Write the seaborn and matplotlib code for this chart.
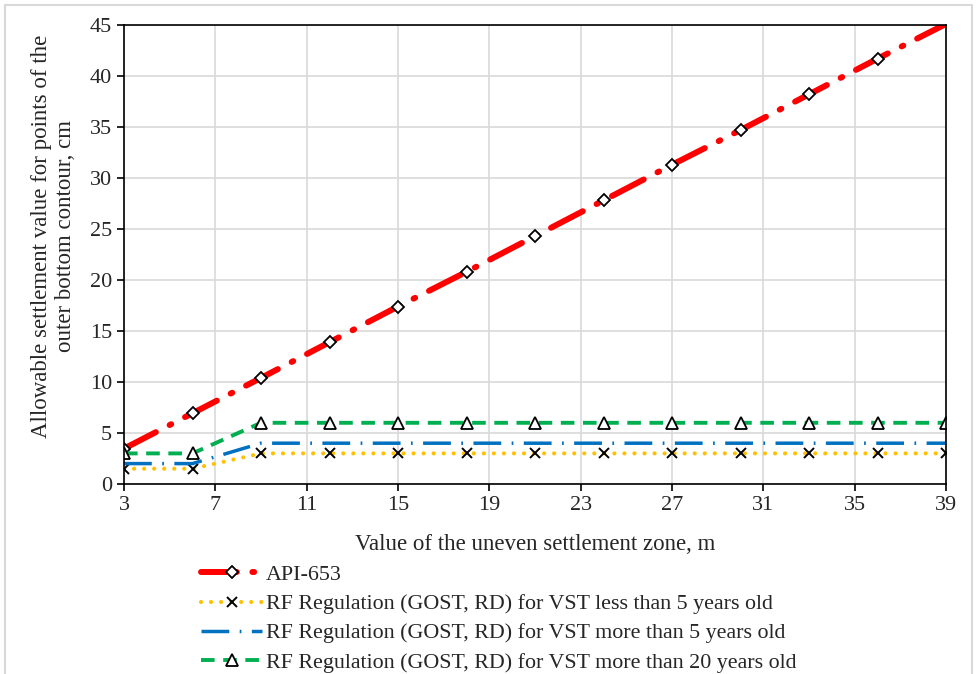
import numpy as np
import pandas as pd
import matplotlib
matplotlib.use('Agg')
import matplotlib.pyplot as plt
import seaborn as sns
from matplotlib.patches import Rectangle

# DATA
zone = [3, 6, 9, 12, 15, 18, 21, 24, 27, 30, 33, 36, 39]
api_653 = [3.47, 6.94, 10.4, 13.9, 17.4, 20.8, 24.3, 27.8, 31.3, 34.7, 38.2, 41.7, 45.1]
rf_less5 = [1.5, 1.5, 3, 3, 3, 3, 3, 3, 3, 3, 3, 3, 3]
rf_more5 = [2, 2, 4, 4, 4, 4, 4, 4, 4, 4, 4, 4, 4]
rf_more20 = [3, 3, 6, 6, 6, 6, 6, 6, 6, 6, 6, 6, 6]

x_ticks = list(range(3, 40, 4))
y_ticks = list(range(0, 46, 5))

labels = ['API-653',
          'RF Regulation (GOST, RD) for VST less than 5 years old',
          'RF Regulation (GOST, RD) for VST more than 5 years old',
          'RF Regulation (GOST, RD) for VST more than 20 years old']

sns.set_style('white')
plt.rcParams['font.family'] = ['Liberation Serif', 'DejaVu Serif']
plt.rcParams['font.size'] = 16

fig = plt.figure(figsize=(9.77, 6.74), dpi=100)
ax = fig.add_axes([124 / 977, 1 - 484 / 674, (946 - 124) / 977, (484 - 25) / 674])

# outer frame of the chart area
fig.patches.append(Rectangle((5 / 977, -0.05), 967 / 977, 1 - 5 / 674 + 0.05,
                             transform=fig.transFigure, fill=False,
                             edgecolor='#d9d9d9', linewidth=1.5))

df = pd.DataFrame({'zone': zone, 'api': api_653, 'less5': rf_less5,
                   'more5': rf_more5, 'more20': rf_more20})

# API-653
sns.lineplot(data=df, x='zone', y='api', ax=ax, color='#ff0000', linewidth=4.3,
             linestyle=(0, (6, 2.6, 0.3, 2.6)), dash_capstyle='round',
             marker='D', markersize=6, markerfacecolor='white',
             markeredgecolor='black', markeredgewidth=1.3,
             markevery=list(range(12)), label=labels[0])

# less than 5 years
sns.lineplot(data=df, x='zone', y='less5', ax=ax, color='#ffc000', linewidth=3,
             linestyle=(0, (0.01, 2.4)), dash_capstyle='round',
             marker='x', markersize=7, markeredgecolor='black',
             markeredgewidth=1.4, label=labels[1])

# more than 5 years
sns.lineplot(data=df, x='zone', y='more5', ax=ax, color='#0070c0', linewidth=2.5,
             linestyle=(0, (8, 3, 0.5, 3)), marker='None', label=labels[2])

# more than 20 years
sns.lineplot(data=df, x='zone', y='more20', ax=ax, color='#00b050', linewidth=2.8,
             linestyle=(0, (3.5, 2.2)), marker='^', markersize=9,
             markerfacecolor='white', markeredgecolor='black',
             markeredgewidth=1.3, label=labels[3])

ax.set_xlim(3, 39)
ax.set_ylim(0, 45)
ax.set_xticks(x_ticks)
ax.set_yticks(y_ticks)
ax.grid(True, color='#d9d9d9', linewidth=1.2)
ax.set_axisbelow(True)
for s in ax.spines.values():
    s.set_color('black')
    s.set_linewidth(1.2)
ax.tick_params(axis='both', which='major', direction='out', length=5,
               width=1.2, color='black', labelsize=16, left=True, bottom=True)

ax.set_xlabel('Value of the uneven settlement zone, m', fontsize=16.5, labelpad=14)
ax.set_ylabel('Allowable settlement value for points of the\nouter bottom contour, cm',
              fontsize=16.5)
ax.yaxis.set_label_coords(-0.058, 0.54)

ax.legend(loc='upper left', bbox_to_anchor=(192 / 977, 1 - 556 / 674),
          bbox_transform=fig.transFigure, frameon=False, fontsize=15.8,
          handlelength=2.8, handletextpad=0.15, labelspacing=0.4,
          borderaxespad=0)

fig.savefig('out.png', dpi=100)
